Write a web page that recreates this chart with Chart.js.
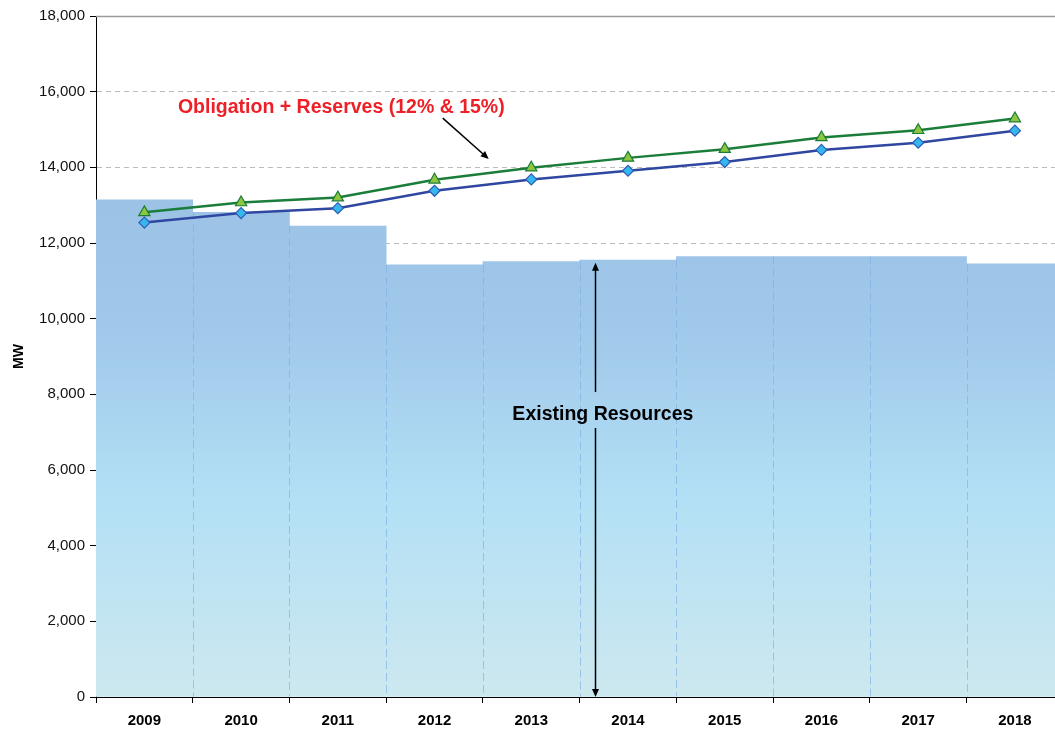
<!DOCTYPE html>
<html>
<head>
<meta charset="utf-8">
<script src="https://cdn.jsdelivr.net/npm/chart.js@4/dist/chart.umd.min.js"></script>
<style>
    html, body { margin: 0; padding: 0; overflow: hidden; background: #fff; }
</style>
</head>
<body>
<canvas id="resourceChart" width="1071" height="731"></canvas>
<script>
const years = ["2009", "2010", "2011", "2012", "2013", "2014", "2015", "2016", "2017", "2018"];
const existingResources = [13140, 12810, 12450, 11420, 11510, 11550, 11640, 11640, 11640, 11450];
const obligation12 = [12540, 12790, 12920, 13380, 13680, 13910, 14140, 14460, 14650, 14970];
const obligation15 = [12810, 13070, 13200, 13670, 13990, 14250, 14480, 14790, 14980, 15290];
const yTicks = [0, 2000, 4000, 6000, 8000, 10000, 12000, 14000, 16000, 18000];

function arrow(ctx, x1, y1, x2, y2) {
    const a = Math.atan2(y2 - y1, x2 - x1);
    const len = 8, w = 3.5;
    ctx.beginPath();
    ctx.moveTo(x1, y1);
    ctx.lineTo(x2 - Math.cos(a) * len * 0.8, y2 - Math.sin(a) * len * 0.8);
    ctx.stroke();
    ctx.beginPath();
    ctx.moveTo(x2, y2);
    ctx.lineTo(x2 - Math.cos(a) * len + Math.sin(a) * w, y2 - Math.sin(a) * len - Math.cos(a) * w);
    ctx.lineTo(x2 - Math.cos(a) * len - Math.sin(a) * w, y2 - Math.sin(a) * len + Math.cos(a) * w);
    ctx.closePath();
    ctx.fill();
}

// solid top line of the plot
const topLine = {
    id: "topLine",
    beforeDatasetsDraw(chart) {
        const { ctx, chartArea, scales: { y } } = chart;
        const py = Math.round(y.getPixelForValue(18000)) + 0.5;
        ctx.save();
        ctx.strokeStyle = "#9a9a9a";
        ctx.lineWidth = 1.5;
        ctx.beginPath();
        ctx.moveTo(chartArea.left, py);
        ctx.lineTo(chartArea.right, py);
        ctx.stroke();
        ctx.restore();
    }
};

// dashed light edges between the resource columns
const barEdges = {
    id: "barEdges",
    afterDatasetDraw(chart, args) {
        if (args.meta.type !== "bar") return;
        const ctx = chart.ctx;
        const bars = args.meta.data;
        ctx.save();
        ctx.strokeStyle = "rgba(125,175,228,0.65)";
        ctx.lineWidth = 1;
        ctx.setLineDash([8, 4]);
        for (let i = 0; i < bars.length - 1; i++) {
            const b = bars[i], n = bars[i + 1];
            const px = Math.round(b.x + b.width / 2) + 0.5;
            const top = Math.max(b.y, n.y);
            ctx.beginPath();
            ctx.moveTo(px, top);
            ctx.lineTo(px, b.base);
            ctx.stroke();
        }
        ctx.restore();
    }
};

const notes = {
    id: "notes",
    afterDraw(chart) {
        const { ctx, scales: { x, y } } = chart;
        ctx.save();
        ctx.font = "bold 19.5px 'Liberation Sans', Arial, sans-serif";
        ctx.textBaseline = "middle";

        ctx.fillStyle = "#ee1f26";
        ctx.textAlign = "left";
        ctx.fillText("Obligation + Reserves (12% & 15%)", x.getPixelForValue(0.347), y.getPixelForValue(15570));

        ctx.fillStyle = "#000";
        ctx.strokeStyle = "#000";
        ctx.lineWidth = 1.5;
        arrow(ctx, x.getPixelForValue(3.085), y.getPixelForValue(15300), x.getPixelForValue(3.56), y.getPixelForValue(14220));

        const ax = Math.round(x.getPixelForValue(4.655)) + 0.5;
        arrow(ctx, ax, y.getPixelForValue(8060), ax, y.getPixelForValue(11480));
        arrow(ctx, ax, y.getPixelForValue(7110), ax, y.getPixelForValue(0));

        ctx.textAlign = "center";
        ctx.fillText("Existing Resources", x.getPixelForValue(4.74), y.getPixelForValue(7460));
        ctx.restore();
    }
};

document.addEventListener("DOMContentLoaded", function () {
    const ctx = document.getElementById("resourceChart");

    new Chart(ctx.getContext("2d"), {
        data: {
            labels: years,
            datasets: [{
                type: "line",
                label: "Obligation + 15%",
                data: obligation15,
                borderColor: "#1b7d3a",
                borderWidth: 2.5,
                tension: 0,
                pointStyle: "triangle",
                pointRadius: 6.5,
                pointBackgroundColor: "#8cc63e",
                pointBorderColor: "#1b7d3a",
                pointBorderWidth: 1.2,
                order: 0
            }, {
                type: "line",
                label: "Obligation + 12%",
                data: obligation12,
                borderColor: "#2f47a0",
                borderWidth: 2.5,
                tension: 0,
                pointStyle: "rectRot",
                pointRadius: 5.5,
                pointBackgroundColor: "#35b6ec",
                pointBorderColor: "#2f5bb8",
                pointBorderWidth: 1.2,
                order: 1
            }, {
                type: "bar",
                label: "Existing Resources",
                data: existingResources,
                barPercentage: 1,
                categoryPercentage: 1,
                borderWidth: 0,
                backgroundColor: function (c) {
                    const chart = c.chart;
                    const ys = chart.scales.y;
                    if (!chart.chartArea || !ys) return "#b0dcf2";
                    const g = chart.ctx.createLinearGradient(0, ys.getPixelForValue(13000), 0, ys.getPixelForValue(0));
                    g.addColorStop(0, "#9cc3e6");
                    g.addColorStop(0.25, "#a0c8ea");
                    g.addColorStop(0.6, "#b3e0f5");
                    g.addColorStop(1, "#cde8ef");
                    return g;
                },
                order: 2
            }]
        },
        options: {
            responsive: false,
            animation: false,
            layout: { padding: { top: 16, right: 0, bottom: 0, left: 0 } },
            plugins: {
                legend: { display: false },
                tooltip: { enabled: false }
            },
            scales: {
                x: {
                    offset: true,
                    grid: {
                        offset: true,
                        drawOnChartArea: false,
                        tickLength: 6,
                        color: "#000",
                        tickColor: "#000"
                    },
                    border: { color: "#000", width: 1 },
                    ticks: {
                        color: "#000",
                        padding: 9,
                        font: { family: "'Liberation Sans', Arial, sans-serif", size: 15, weight: "bold" }
                    },
                    afterFit: function (s) { s.height = 34; }
                },
                y: {
                    min: 0,
                    max: 18000,
                    afterBuildTicks: function (s) { s.ticks = yTicks.map(v => ({ value: v })); },
                    grid: {
                        color: c => (c.tick && c.tick.value === 18000) ? "rgba(0,0,0,0)" : "#bdbdbd",
                        tickColor: "#000",
                        tickLength: 6
                    },
                    border: { color: "#000", width: 1, dash: [5, 4] },
                    ticks: {
                        color: "#111",
                        padding: 5,
                        font: { family: "'Liberation Sans', Arial, sans-serif", size: 15 },
                        callback: v => v.toLocaleString("en-US")
                    },
                    title: {
                        display: true,
                        text: "MW",
                        color: "#000",
                        padding: { top: 11, bottom: 0 },
                        font: { family: "'Liberation Sans', Arial, sans-serif", size: 14, weight: "bold" }
                    },
                    afterFit: function (s) { s.width = 96; }
                }
            }
        },
        plugins: [topLine, barEdges, notes]
    });
});
</script>
</body>
</html>
